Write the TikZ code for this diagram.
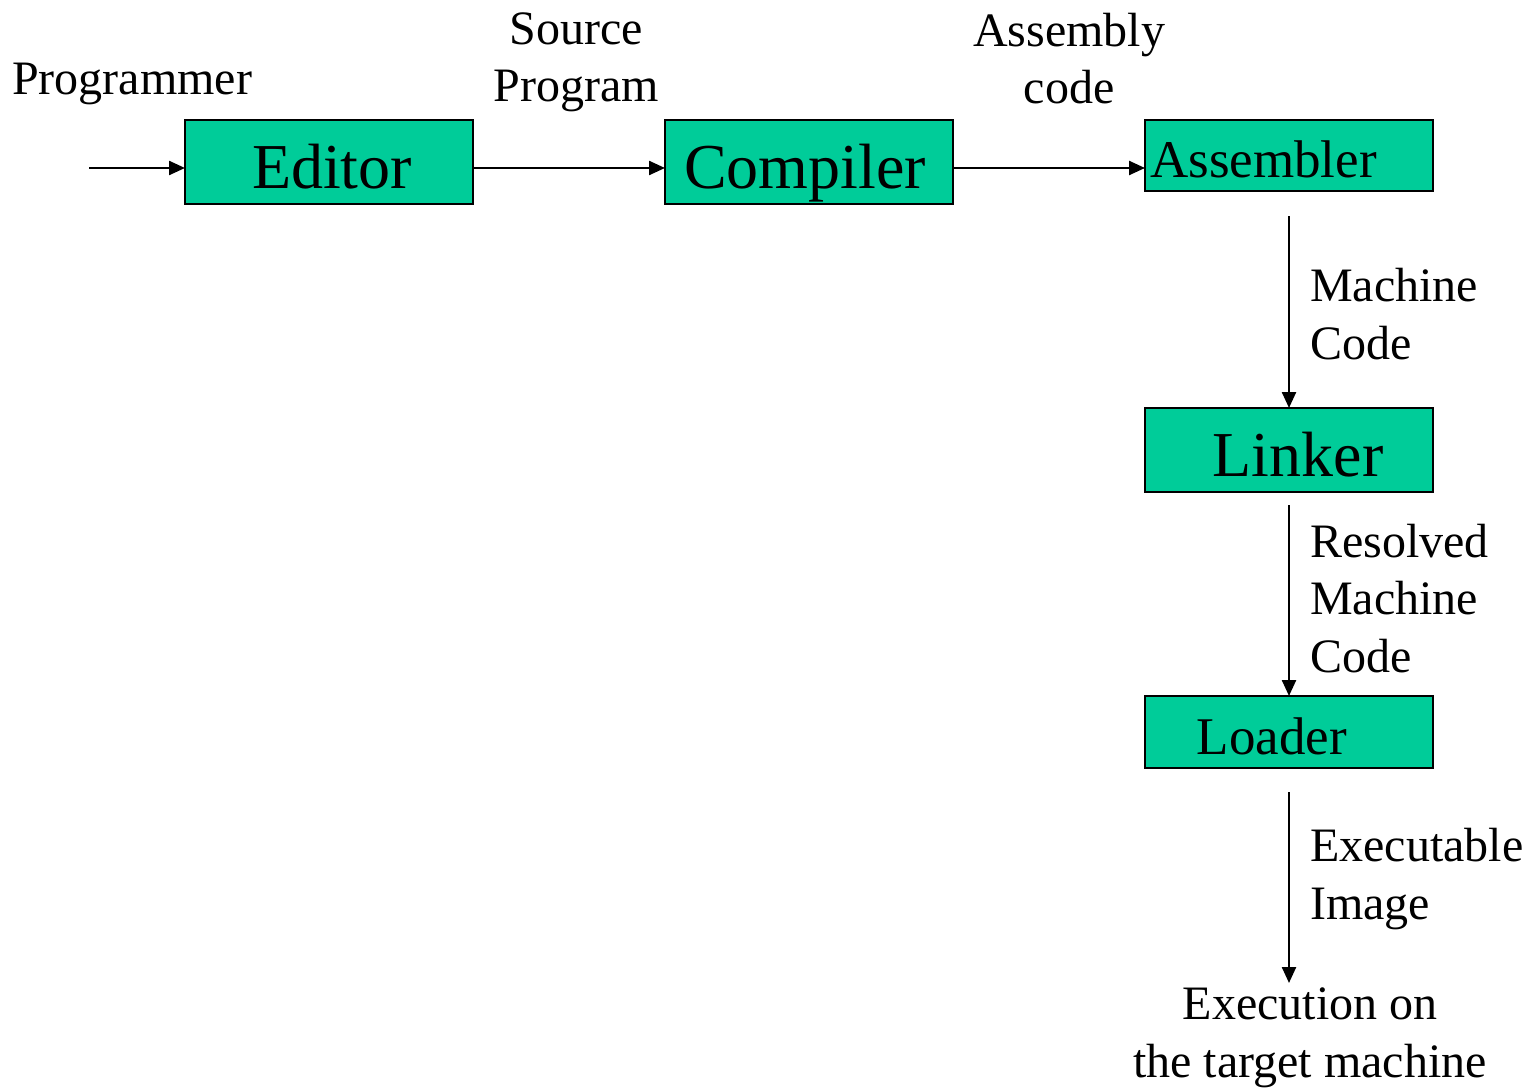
\documentclass[tikz,border=0pt]{standalone}
\usepackage{fontspec}
\setmainfont{Liberation Serif}
\usetikzlibrary{arrows.meta}
\definecolor{boxgreen}{HTML}{00CC99}
\tikzset{
  box/.style={draw=black, line width=2.8pt, fill=boxgreen, minimum width=288pt, inner sep=0pt, outer sep=0pt},
  big/.style={font=\fontsize{64}{76}\selectfont},
  mid/.style={font=\fontsize{53}{63}\selectfont},
  lbl/.style={font=\fontsize{48}{57.5}\selectfont, inner sep=0pt},
  arr/.style={line width=2.4pt, -{Triangle[length=16pt,width=14pt]}}
}
\begin{document}
\begin{tikzpicture}[x=1pt,y=-1pt]
\useasboundingbox (0,0) rectangle (1529,1089);
% boxes
\node[box, big, minimum height=84pt] (editor) at (329,162) {};
\node[box, big, minimum height=84pt] (compiler) at (809,162) {};
\node[box, mid, minimum height=71pt] (asm) at (1289,155.5) {};
\node[box, big, minimum height=84pt] (linker) at (1289,450) {};
\node[box, mid, minimum height=72pt] (loader) at (1289,732) {};
% box texts
\node[big, anchor=base, inner sep=0pt] (tEditor) at (332,188) {Editor};
\node[big, anchor=base, inner sep=0pt] (tCompiler) at (805,188) {Compiler};
\node[mid, anchor=base west, inner sep=0pt] (tAsm) at (1150,178) {Assembler};
\node[big, anchor=base, inner sep=0pt] (tLinker) at (1298,476) {Linker};
\node[mid, anchor=base, inner sep=0pt] (tLoader) at (1272,754) {Loader};
% labels (base anchor = baseline of last line)
\node[lbl, anchor=base west] (prog) at (12,95) {Programmer};
\node[lbl, anchor=base, align=center] (src) at (576,102) {Source\\Program};
\node[lbl, anchor=base, align=center] (asmc) at (1069,104) {Assembly\\code};
\node[lbl, anchor=base west, align=left] (mc) at (1310,359) {Machine\\Code};
\node[lbl, anchor=base west, align=left] (rmc) at (1310,672) {Resolved\\Machine\\Code};
\node[lbl, anchor=base west, align=left] (ei) at (1310,919) {Executable\\Image};
\node[lbl, anchor=base, align=center] (exe) at (1310,1077) {Execution on\\the target machine};
% connectors
\coordinate (in) at (89,168);
\draw[arr] (in) -- (in -| editor.west);
\draw[arr] (editor.east |- in) -- (compiler.west |- in);
\draw[arr] (compiler.east |- in) -- (asm.west |- in);
\draw[arr] ([yshift=-25pt]asm.south) -- (linker.north);
\draw[arr] ([yshift=-13pt]linker.south) -- (loader.north);
\coordinate (exetop) at (1289,983);
\draw[arr] ([yshift=-24pt]loader.south) -- (exetop);
\end{tikzpicture}
\end{document}
